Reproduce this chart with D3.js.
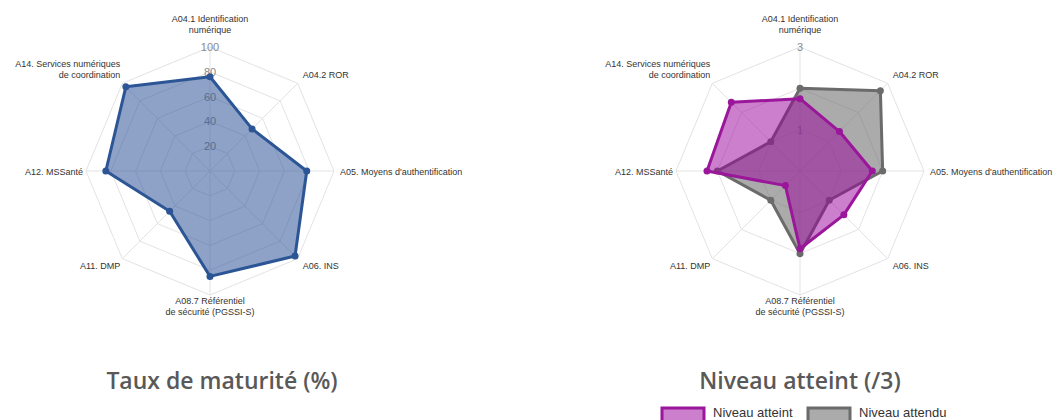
<!DOCTYPE html>
<html>
<head>
<meta charset="utf-8">
<script src="https://cdn.jsdelivr.net/npm/d3@7"></script>
<style>
  html, body { margin: 0; padding: 0; background: #ffffff; }
  svg { display: block; }
</style>
</head>
<body>
<svg id="chart" width="1058" height="420"></svg>
<script>
// ---- Data ----
const categories = [
  ["A04.1 Identification", "numérique"],
  ["A04.2 ROR"],
  ["A05. Moyens d'authentification"],
  ["A06. INS"],
  ["A08.7 Référentiel", "de sécurité (PGSSI-S)"],
  ["A11. DMP"],
  ["A12. MSSanté"],
  ["A14. Services numériques", "de coordination"]
];
const maturiteValues = [76, 48, 78, 97, 85, 46, 84, 96];
const maturiteTicks = [20, 40, 60, 80, 100];
const niveauAtteint = [1.75, 1.35, 1.75, 1.5, 1.88, 0.5, 2.25, 2.35];
const niveauAttendu = [2, 2.75, 2, 1, 2, 1, 2, 1];
const niveauTicks = [1, 2, 3];
const niveauTickLabels = ["1", "", "3"];
const legendLabels = ["Niveau atteint", "Niveau attendu"];
const titles = ["Taux de maturité (%)", "Niveau atteint (/3)"];

const svg = d3.select("#chart");
const R = 124;
const n = categories.length;
const angle = d3.scaleLinear().domain([0, n]).range([0, 2 * Math.PI]);

function pt(cx, cy, r, i) {
  const a = angle(i);
  return [cx + r * Math.sin(a), cy - r * Math.cos(a)];
}

function drawRadar(cx, cy, maxV, ticks, tickLabels, series) {
  const g = svg.append("g");
  const rs = d3.scaleLinear().domain([0, maxV]).range([0, R]);

  // rings
  ticks.forEach(t => {
    const pts = d3.range(n).map(i => pt(cx, cy, rs(t), i));
    g.append("polygon")
      .attr("points", pts.map(p => p.join(",")).join(" "))
      .attr("fill", "none").attr("stroke", "#e3e3e3").attr("stroke-width", 1);
  });
  // spokes
  d3.range(n).forEach(i => {
    const p = pt(cx, cy, R, i);
    g.append("line").attr("x1", cx).attr("y1", cy).attr("x2", p[0]).attr("y2", p[1])
      .attr("stroke", "#e3e3e3").attr("stroke-width", 1);
  });
  // tick labels
  ticks.forEach((t, k) => {
    g.append("text").attr("x", cx).attr("y", cy - rs(t) + 4)
      .attr("text-anchor", "middle")
      .attr("font-family", "Liberation Sans, Arial, sans-serif")
      .attr("font-size", 11).attr("fill", "#8a8a8a")
      .text(tickLabels[k]);
  });
  // axis labels
  categories.forEach((lines, i) => {
    const v = pt(cx, cy, R, i);
    const a = angle(i);
    const s = Math.sin(a), c = Math.cos(a);
    let anchor, x, y0;
    const lh = 11;
    if (Math.abs(s) < 0.01) {
      anchor = "middle"; x = v[0];
      if (c > 0) y0 = v[1] - 14 - (lines.length - 1) * lh; // top
      else y0 = v[1] + 9; // bottom
    } else if (Math.abs(c) < 0.01) {
      anchor = s > 0 ? "start" : "end";
      x = v[0] + (s > 0 ? 6 : -3);
      y0 = v[1] + 4 - (lines.length - 1) * lh / 2;
    } else {
      anchor = s > 0 ? "start" : "end";
      x = v[0] + (s > 0 ? 5 : -2);
      if (c > 0) y0 = v[1] - 5 - (lines.length - 1) * lh;
      else y0 = v[1] + 10;
    }
    const t = g.append("text").attr("text-anchor", anchor)
      .attr("font-family", "Liberation Sans, Arial, sans-serif")
      .attr("font-size", 9).attr("fill", "#333");
    lines.forEach((ln, k) => {
      t.append("tspan").attr("x", x).attr("y", y0 + k * lh).text(ln);
    });
  });
  // series (drawn last first so first is on top)
  const line = d3.lineRadial().angle((d, i) => angle(i)).radius(d => rs(d)).curve(d3.curveLinearClosed);
  series.slice().reverse().forEach(sr => {
    const sg = g.append("g").attr("transform", `translate(${cx},${cy})`);
    sg.append("path").attr("d", line(sr.values))
      .attr("fill", sr.fill).attr("stroke", sr.stroke).attr("stroke-width", 3)
      .attr("stroke-linejoin", "round");
    sr.values.forEach((d, i) => {
      const p = pt(0, 0, rs(d), i);
      sg.append("circle").attr("cx", p[0]).attr("cy", p[1]).attr("r", 3.5)
        .attr("fill", sr.stroke);
    });
  });
}

drawRadar(210, 171, 100, maturiteTicks, maturiteTicks.map(String), [
  { values: maturiteValues, stroke: "#2c5596", fill: "rgba(47,85,151,0.55)" }
]);

drawRadar(800, 171, 3, niveauTicks, niveauTickLabels, [
  { values: niveauAtteint, stroke: "#9a169a", fill: "rgba(153,0,153,0.5)" },
  { values: niveauAttendu, stroke: "#6b6b6b", fill: "rgba(110,110,110,0.58)" }
]);

// titles
[[222, titles[0]], [800, titles[1]]].forEach(([x, t]) => {
  svg.append("text").attr("x", x).attr("y", 389).attr("text-anchor", "middle")
    .attr("font-family", "Open Sans, sans-serif").attr("font-weight", 600)
    .attr("font-size", 23).attr("fill", "#595959").text(t);
});

// legend
const legendItems = [
  { label: legendLabels[0], stroke: "#9a169a", fill: "rgba(153,0,153,0.5)", x: 662 },
  { label: legendLabels[1], stroke: "#6b6b6b", fill: "rgba(110,110,110,0.58)", x: 808 }
];
legendItems.forEach(it => {
  svg.append("rect").attr("x", it.x).attr("y", 408).attr("width", 42).attr("height", 16)
    .attr("fill", it.fill).attr("stroke", it.stroke).attr("stroke-width", 3);
  svg.append("text").attr("x", it.x + 51).attr("y", 417)
    .attr("font-family", "Liberation Sans, Arial, sans-serif").attr("font-size", 13)
    .attr("fill", "#333").text(it.label);
});
</script>
</body>
</html>
